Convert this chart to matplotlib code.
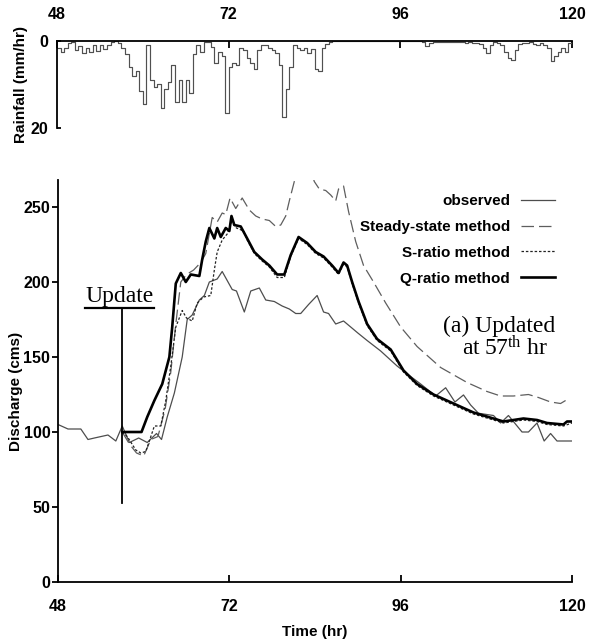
import numpy as np
import matplotlib
matplotlib.use('Agg')
import matplotlib.pyplot as plt

plt.rcParams['font.family'] = ['Liberation Sans', 'DejaVu Sans']
plt.rcParams['mathtext.fontset'] = 'custom'
plt.rcParams['mathtext.rm'] = 'Liberation Serif'
plt.rcParams['mathtext.it'] = 'Liberation Serif:italic'
plt.rcParams['mathtext.bf'] = 'Liberation Serif:bold'

# ---------------- data ----------------
rain_start = 48.0
rain_step = 0.5
rain = [1.5, 2.5, 1.5, 0.5, 0.2, 2.0, 1.2, 2.8, 1.5, 2.5, 1.0, 2.2, 1.0, 1.8, 1.0, 0.2,
        0.0, 0.5, 1.5, 3.0, 6.0, 8.0, 7.0, 11.5, 14.5, 1.0, 9.0, 10.5, 10.0, 15.5, 11.0, 9.5,
        5.5, 14.0, 9.0, 14.0, 9.0, 12.0, 3.0, 1.0, 2.5, 0.3, 0.3, 1.3, 5.0, 2.5, 3.5, 16.5,
        6.0, 5.0, 5.5, 1.5, 2.0, 4.0, 5.0, 6.5, 2.0, 1.0, 1.0, 1.5, 2.0, 2.8, 5.5, 17.5,
        11.0, 6.0, 1.0, 1.5, 2.0, 1.5, 2.8, 1.8, 6.5, 7.0, 1.5, 0.8, 0.3, 0.0, 0.0, 0.0,
        0, 0, 0, 0, 0, 0, 0, 0, 0, 0, 0, 0, 0, 0, 0, 0,
        0, 0, 0, 0, 0, 0, 0.2, 1.2, 0.5, 0.2, 0.2, 0.2, 0.3, 0.3, 0.2, 0.2,
        0.2, 0.3, 0.5, 0.3, 0.5, 0.5, 0.8, 1.5, 2.8, 1.0, 0.3, 0.5, 1.0, 2.5, 3.8, 4.4,
        2.0, 0.8, 0.5, 0.5, 0.3, 0.8, 1.0, 0.5, 1.0, 1.5, 4.7, 3.5, 2.5, 1.5, 2.5, 0.5,
        1.0]

obs_t = [48, 49.4, 51.2, 52.2, 53.1, 55.0, 56.1, 57.0, 58.0, 59.3, 60.5, 61.8, 62.5, 63.3,
         64.3, 65.4, 66.1, 66.8, 67.8, 68.5, 69.2, 70.3, 71.0, 72.4, 73.0, 74.1, 75.0, 76.2,
         77.1, 78.3, 79.4, 80.4, 81.3, 82.0, 83.1, 84.3, 85.2, 85.9, 86.9, 88.0, 89.0, 90.0,
         91.3, 93.2, 95.5, 97.4, 98.8, 100.9, 102.3, 103.6, 104.8, 105.8, 106.9, 109.0, 110.0,
         111.1, 113.0, 113.9, 115.1, 116.1, 117.0, 117.9, 120.0]
obs_q = [105, 102, 102, 95, 96, 98, 94, 104, 93, 96, 93, 99, 95, 110,
         126, 150, 175, 178, 188, 191, 200, 202, 207, 195, 194, 180, 194, 196,
         188, 187, 184, 182, 179, 179, 185, 191, 180, 179, 172, 174, 170, 166,
         161, 154, 144, 137, 132, 124, 129.5, 120, 124.7, 118, 112.5, 111, 106,
         111, 100, 100, 106, 94, 99, 94, 94]

ss_t = [57, 58, 59, 60, 61, 62, 63, 63.8, 64.5, 65.2, 66.0, 67.0, 68.0, 68.7, 69.6, 70.3,
        71.0, 71.5, 72.1, 72.9, 73.8, 74.8, 75.7, 76.6, 77.6, 78.5, 79.2, 79.9, 80.4, 81.1,
        81.6, 82.5, 83.4, 83.9, 84.6, 85.5, 86.2, 86.9, 87.3, 88.0, 88.7, 89.7, 90.8, 92.2,
        93.9, 96.0, 98.3, 101.6, 105.3, 108.1, 110.0, 111.8, 113.9, 115.3, 117.0, 118.4, 119.1]
ss_q = [100, 92, 86, 84, 95, 97, 115, 140, 172, 200, 205, 208, 213, 219, 243, 240,
        246, 245, 256, 249, 256, 248, 244, 242, 241, 237, 238, 244, 254, 267,
        275, 280, 275, 267, 262, 261, 258, 254, 262, 264, 247, 227, 211, 200,
        186, 170, 157, 143, 133, 127, 124, 124, 125, 123, 120, 119, 121]

sr_t = [57, 57.7, 58.9, 59.6, 60.3, 61.5, 62.4, 63.1, 63.8, 64.5, 65.4, 66.0, 66.8, 67.5,
        68.4, 69.4, 69.9, 70.3, 71.0, 71.7, 72.3, 73.0, 74.0, 74.5, 75.5, 76.6, 77.6, 78.7,
        79.7, 80.6, 81.7, 82.9, 84.1, 85.2, 86.4, 87.3, 88.0, 88.5, 89.2, 90.1, 91.3, 92.7,
        94.6, 96.4, 98.3, 100.6, 103.4, 106.2, 109.0, 110.4, 113.2, 115.1, 116.5, 118.8, 120]
sr_q = [100, 97, 88, 86, 87, 104, 104, 121, 144, 170, 181, 176, 174, 186,
        190, 191, 208, 220, 228, 232, 240, 236, 234, 228, 219, 214, 210, 203,
        203, 217, 229, 225, 219, 216, 210, 205, 212, 210, 199, 186, 171, 161,
        154, 140, 131, 124, 118, 112, 108, 106, 108, 107, 105, 104, 106]

qr_t = [57, 58, 59, 59.7, 60.5, 61.5, 62.6, 63.6, 64.0, 64.5, 65.2, 65.9, 66.6, 67.8, 68.2,
        68.7, 69.2, 69.9, 70.3, 70.8, 71.5, 72.0, 72.3, 72.7, 73.6, 74.5, 75.5, 76.6, 77.6,
        78.7, 79.7, 80.6, 81.7, 82.9, 84.1, 85.2, 86.4, 87.3, 88.0, 88.5, 89.2, 90.1, 91.3,
        92.7, 94.6, 96.4, 98.3, 100.6, 103.4, 106.2, 109.0, 110.4, 113.2, 115.1, 116.5,
        118.8, 119.3, 120]
qr_q = [100, 100, 100, 100, 110, 121, 132, 150, 170, 199, 206, 200, 205, 204, 215,
        227, 236, 229, 236, 230, 236, 234, 244, 238, 237, 229, 220, 215, 211,
        205, 205, 218, 230, 226, 220, 217, 211, 206, 213, 211, 200, 187, 172,
        162, 155, 141, 132, 125, 119, 113, 109, 107, 109, 108, 106,
        105, 107, 107]

x_ticks = [48, 72, 96, 120]
q_ticks = [0, 50, 100, 150, 200, 250]
rain_ticks = [0, 20]
update_time = 57
update_line = (53, 183)

# ---------------- figure ----------------
W, H = 593, 644
fig = plt.figure(figsize=(W / 100, H / 100), dpi=100)
ax_r = fig.add_axes([57 / W, 1 - 128 / H, 515 / W, 87 / H])
ax = fig.add_axes([58 / W, 1 - 582 / H, 514 / W, 402 / H])

tickfont = dict(fontsize=11.5, fontweight='bold')

# rainfall panel
rain_t = rain_start + rain_step * np.arange(len(rain))
ax_r.step(rain_t, rain, where='post', color='#505050', lw=0.85)
ax_r.set_xlim(48, 120)
ax_r.set_ylim(20, 0)
for s in ['right', 'bottom']:
    ax_r.spines[s].set_visible(False)
for s in ['top', 'left']:
    ax_r.spines[s].set_linewidth(1.3)
ax_r.xaxis.tick_top()
ax_r.set_xticks(x_ticks)
ax_r.set_xticklabels([str(v) for v in x_ticks], **tickfont)
ax_r.tick_params(axis='x', direction='in', length=5, width=1.3, pad=14)
ax_r.set_yticks(rain_ticks)
ax_r.set_yticklabels([str(v) for v in rain_ticks], **tickfont)
ax_r.tick_params(axis='y', direction='in', length=3, width=1.3, pad=6)
ax_r.set_ylabel('Rainfall (mm/hr)', fontsize=11, fontweight='bold')
ax_r.yaxis.set_label_coords(-0.056, 0.5)

# discharge panel
ax.plot(obs_t, obs_q, color='#4d4d4d', lw=0.9, label='observed')
ax.plot(ss_t, ss_q, color='#5e5e5e', lw=0.9, dashes=(10, 4), label='Steady-state method')
ax.plot(sr_t, sr_q, color='#222222', lw=0.9, dashes=(2, 1.5), label='S-ratio method')
ax.plot(qr_t, qr_q, color='black', lw=1.9, label='Q-ratio method')

ax.set_xlim(48, 120)
ax.set_ylim(0, 268)
for s in ['right', 'top']:
    ax.spines[s].set_visible(False)
for s in ['left', 'bottom']:
    ax.spines[s].set_linewidth(1.3)
ax.set_xticks(x_ticks)
ax.set_xticklabels([str(v) for v in x_ticks], **tickfont)
ax.tick_params(axis='x', direction='in', length=5, width=1.3, pad=12)
ax.set_yticks(q_ticks)
ax.set_yticklabels([str(v) for v in q_ticks], **tickfont)
ax.tick_params(axis='y', direction='out', length=4, width=1.3, pad=1.5)
ax.set_xlabel('Time (hr)', fontsize=11, fontweight='bold', labelpad=8)
ax.set_ylabel('Discharge (cms)', fontsize=11, fontweight='bold')
ax.yaxis.set_label_coords(-0.068, 0.475)

# Update annotation
ax.plot([update_time, update_time], list(update_line), color='black', lw=1.3)
txt = ax.text(56.6, 186.5, 'Update', family='Liberation Serif', fontsize=17,
              ha='center', va='baseline')
fig.canvas.draw()
bb = txt.get_window_extent(renderer=fig.canvas.get_renderer())
inv = ax.transData.inverted()
x0 = inv.transform((bb.x0, 0))[0]
x1 = inv.transform((bb.x1, 0))[0]
ax.plot([x0, x1], [update_line[1], update_line[1]], color='black', lw=1.6)

ax.text(117.6, 166.7, '(a) Updated', family='Liberation Serif', fontsize=17,
        ha='right', va='baseline')
ax.text(116.7, 151, 'at 57$^{\\mathrm{th}}$ hr', family='Liberation Serif', fontsize=17,
        ha='right', va='baseline')

leg = ax.legend(loc='upper right', bbox_to_anchor=(555 / W, 1 - 194 / H),
                bbox_transform=fig.transFigure, frameon=False, markerfirst=False,
                prop=dict(size=11, weight='bold'), handlelength=2.2,
                handletextpad=0.75, labelspacing=0.78, borderpad=0, borderaxespad=0)

fig.savefig('out.png', dpi=100)
